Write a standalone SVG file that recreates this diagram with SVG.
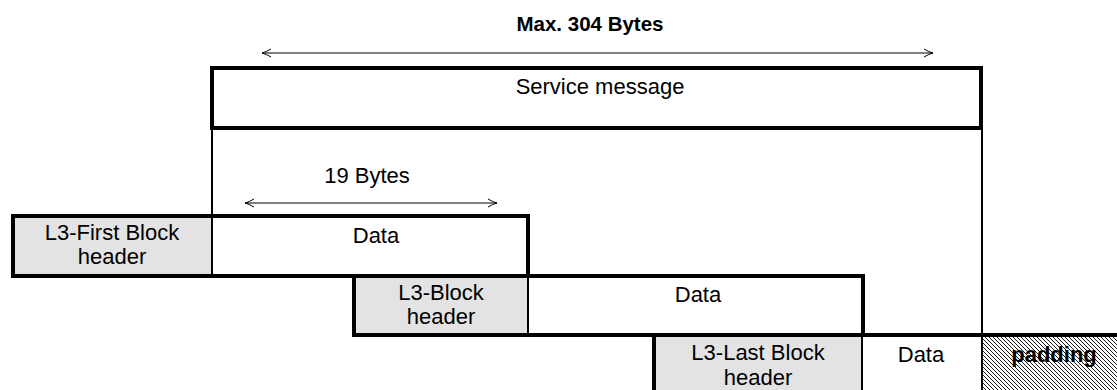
<svg xmlns="http://www.w3.org/2000/svg" width="1117" height="390" viewBox="0 0 1117 390">
<style>
text{font-family:"Liberation Sans",Arial,sans-serif;font-size:22px;fill:#000;text-anchor:middle}
.b{font-weight:bold}
.t{font-size:20.5px}
.box{fill:none;stroke:#000;stroke-width:4}
.hdr{fill:#e3e3e3;stroke:none}
.thin{stroke:#000;stroke-width:2;fill:none}
.arr{stroke:#000;stroke-width:1;fill:none;marker-start:url(#al);marker-end:url(#ar)}
</style>
<defs>
<marker id="ar" viewBox="0 0 10 10" refX="10" refY="5" markerWidth="10" markerHeight="10" markerUnits="userSpaceOnUse" orient="auto">
<path d="M1,1 Q6,4 10,5 Q6,6 1,9" fill="none" stroke="#000" stroke-width="1"/>
</marker>
<marker id="al" viewBox="0 0 10 10" refX="0" refY="5" markerWidth="10" markerHeight="10" markerUnits="userSpaceOnUse" orient="auto">
<path d="M9,1 Q4,4 0,5 Q4,6 9,9" fill="none" stroke="#000" stroke-width="1"/>
</marker>
<pattern id="hatch" patternUnits="userSpaceOnUse" width="4" height="4">
<rect width="4" height="4" fill="#fff"/>
<path d="M-1,-1 L5,5 M-1,3 L1,5 M3,-1 L5,1" stroke="#000" stroke-width="0.9"/>
</pattern>
</defs>

<g id="title">
<text class="b t" x="590" y="31">Max. 304 Bytes</text>
</g>

<g id="service-message">
<rect class="box" x="212" y="68" width="769" height="60"/>
<text x="600" y="94">Service message</text>
</g>

<g id="first-block">
<rect class="hdr" x="13" y="216" width="199" height="60"/>
<line class="thin" x1="212" y1="216" x2="212" y2="276"/>
<rect class="box" x="13" y="216" width="515" height="60"/>
<text x="112" y="240">L3-First Block</text>
<text x="112" y="264">header</text>
<text x="376" y="243">Data</text>
</g>

<g id="middle-block">
<rect class="hdr" x="354" y="276" width="174" height="59"/>
<line class="thin" x1="528" y1="276" x2="528" y2="335"/>
<rect class="box" x="354" y="276" width="509" height="59"/>
<text x="441" y="300">L3-Block</text>
<text x="441" y="324">header</text>
<text x="698" y="302">Data</text>
</g>

<g id="last-block">
<rect class="hdr" x="654" y="335" width="208" height="60"/>
<rect x="982" y="336" width="140" height="60" fill="url(#hatch)"/>
<line class="thin" x1="862" y1="335" x2="862" y2="395"/>
<path class="box" d="M654,395 L654,335 L1121,335"/>
<text x="758" y="360">L3-Last Block</text>
<text x="758" y="385">header</text>
<text x="921" y="362">Data</text>
<text class="b" x="1054" y="362">padding</text>
</g>

<g id="connectors">
<line class="thin" x1="212" y1="128" x2="212" y2="216"/>
<line class="thin" x1="982" y1="128" x2="982" y2="390"/>
<line class="arr" x1="262" y1="53" x2="933" y2="53"/>
<line class="arr" x1="245" y1="203" x2="497" y2="203"/>
<text x="367" y="183">19 Bytes</text>
</g>
</svg>
